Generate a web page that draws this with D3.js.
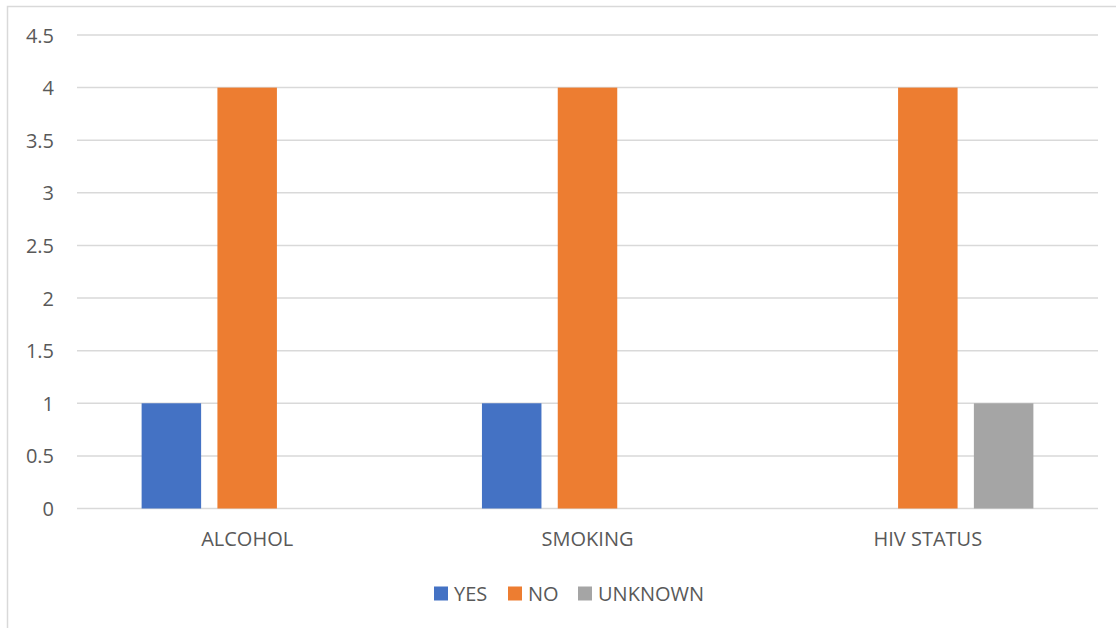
<!DOCTYPE html>
<html>
<head>
<meta charset="utf-8">
<script src="https://cdn.jsdelivr.net/npm/d3@7"></script>
<style>
  html, body { margin: 0; padding: 0; background: #fff; }
  svg { display: block; }
  text { font-family: "Open Sans", "Noto Sans", sans-serif; fill: #595959; }
</style>
</head>
<body>
<svg id="chart" width="1116" height="628"></svg>
<script>
// Categories, series and values
const categories = ["ALCOHOL", "SMOKING", "HIV STATUS"];
const seriesNames = ["YES", "NO", "UNKNOWN"];
const yesValues = [1, 1, 0];
const noValues = [4, 4, 4];
const unknownValues = [0, 0, 1];
const yTicks = [0, 0.5, 1, 1.5, 2, 2.5, 3, 3.5, 4, 4.5];
const colors = ["#4472c4", "#ed7d31", "#a5a5a5"];

const seriesValues = [yesValues, noValues, unknownValues];

const svg = d3.select("#chart");
const W = 1116, H = 628;

// Chart frame
svg.append("path")
  .attr("d", `M7.5,${H} V6.5 H${W}`)
  .attr("fill", "none")
  .attr("stroke", "#d9d9d9")
  .attr("stroke-width", 1.5);

const plot = { left: 77, right: 1098, top: 35, bottom: 508.5 };

const x0 = d3.scaleBand()
  .domain(categories)
  .range([plot.left, plot.right])
  .paddingInner(0).paddingOuter(0);

const bandW = x0.bandwidth();
const barW = 59.5, gap = 16.3;
const groupW = barW * 3 + gap * 2;
const x1 = d3.scaleBand()
  .domain(seriesNames)
  .range([(bandW - groupW) / 2, (bandW + groupW) / 2])
  .paddingInner(gap / (barW + gap))
  .paddingOuter(0);

const y = d3.scaleLinear()
  .domain([0, 4.5])
  .range([plot.bottom, plot.top]);

// Gridlines
svg.append("g")
  .selectAll("line")
  .data(yTicks)
  .join("line")
  .attr("x1", plot.left)
  .attr("x2", plot.right)
  .attr("y1", d => y(d))
  .attr("y2", d => y(d))
  .attr("stroke", "#d9d9d9")
  .attr("stroke-width", 1.5);

// Y axis labels
const yAxis = d3.axisLeft(y).tickValues(yTicks).tickSize(0).tickPadding(0)
  .tickFormat(d => d3.format("")(d));
const yG = svg.append("g").attr("transform", `translate(${plot.left - 23},0)`).call(yAxis);
yG.select(".domain").remove();
yG.selectAll("text")
  .attr("font-family", "Open Sans, Noto Sans, sans-serif")
  .attr("font-size", 20)
  .attr("fill", "#595959")
  .attr("dy", "0.35em");

// Bars
const groups = svg.append("g")
  .selectAll("g")
  .data(categories)
  .join("g")
  .attr("transform", d => `translate(${x0(d)},0)`);

groups.selectAll("rect")
  .data((c, i) => seriesNames.map((s, j) => ({ s, j, v: seriesValues[j][i] })).filter(d => d.v > 0))
  .join("rect")
  .attr("x", d => x1(d.s))
  .attr("width", x1.bandwidth())
  .attr("y", d => y(d.v))
  .attr("height", d => y(0) - y(d.v))
  .attr("fill", d => colors[d.j]);

// X axis labels
const xAxis = d3.axisBottom(x0).tickSize(0).tickPadding(0);
const xG = svg.append("g").attr("transform", `translate(0,${plot.bottom + 23})`).call(xAxis);
xG.select(".domain").remove();
xG.selectAll("text")
  .attr("font-family", "Open Sans, Noto Sans, sans-serif")
  .attr("font-size", 20)
  .attr("fill", "#595959")
  .attr("dy", "0.71em");

// Legend
const legendX = [434, 508, 578];
const legend = svg.append("g")
  .selectAll("g")
  .data(seriesNames)
  .join("g")
  .attr("transform", (d, i) => `translate(${legendX[i]},586.5)`);
legend.append("rect")
  .attr("width", 14).attr("height", 14)
  .attr("fill", (d, i) => colors[i]);
legend.append("text")
  .attr("x", 20)
  .attr("y", 7)
  .attr("dy", "0.35em")
  .attr("font-size", 20)
  .text(d => d);
</script>
</body>
</html>
